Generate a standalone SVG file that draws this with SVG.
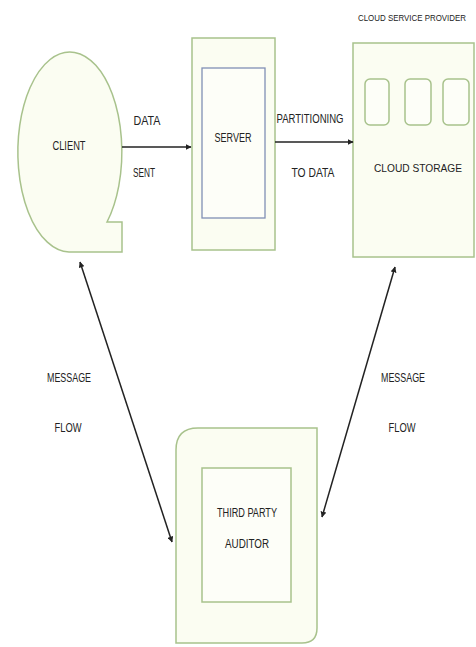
<svg xmlns="http://www.w3.org/2000/svg" width="476" height="647" viewBox="0 0 476 647">
<style>
.shape{fill:#fbfdf2;stroke:#a8c28c;stroke-width:1.5}
.inner{fill:#fdfef8;stroke:#a8c28c;stroke-width:1.5}
.t{font-family:"Liberation Sans",Arial,sans-serif;font-size:12.5px;fill:#222;text-anchor:middle}
.s{font-size:8.5px}
.m{font-size:11px}
.c{fill:none;stroke:#222;stroke-width:1.5}
</style>
<defs>
<marker id="ah" viewBox="0 0 10 10" refX="9" refY="5" markerWidth="6" markerHeight="6" orient="auto-start-reverse" markerUnits="userSpaceOnUse">
<path d="M0,0 L10,5 L0,10 z" fill="#222"/>
</marker>
</defs>
<rect width="476" height="647" fill="#ffffff"/>
<g id="client">
<path class="shape" d="M107,222 A52,100 0 1 0 69,252 L122,252 L122,222 Z"/>
<text class="t" x="69" y="150" textLength="33" lengthAdjust="spacingAndGlyphs">CLIENT</text>
</g>
<g id="server">
<rect class="shape" x="192" y="38" width="83" height="212"/>
<rect x="202" y="68" width="63" height="150" fill="#fdfef8" stroke="#8090b4" stroke-width="1.3"/>
<text class="t" x="233" y="142" textLength="37" lengthAdjust="spacingAndGlyphs">SERVER</text>
</g>
<g id="cloud">
<text class="t s" x="412" y="21" textLength="108" lengthAdjust="spacingAndGlyphs">CLOUD SERVICE PROVIDER</text>
<rect class="shape" x="353" y="43" width="121" height="214"/>
<rect class="inner" x="365" y="79" width="24" height="46" rx="5"/>
<rect class="inner" x="405" y="79" width="26" height="46" rx="5"/>
<rect class="inner" x="443" y="79" width="26" height="46" rx="5"/>
<text class="t m" x="418" y="172" textLength="88" lengthAdjust="spacingAndGlyphs">CLOUD STORAGE</text>
</g>
<g id="auditor">
<path class="shape" d="M198,428 L317,428 L317,628 Q317,643 302,643 L176,643 L176,450 Q176,428 198,428 Z"/>
<rect class="inner" x="202" y="468" width="89" height="134"/>
<text class="t" x="247" y="517" textLength="60" lengthAdjust="spacingAndGlyphs">THIRD PARTY</text>
<text class="t" x="247" y="548" textLength="44" lengthAdjust="spacingAndGlyphs">AUDITOR</text>
</g>
<g id="connectors">
<line class="c" x1="122" y1="147" x2="191" y2="147" marker-end="url(#ah)"/>
<line class="c" x1="275" y1="142" x2="353" y2="142" stroke-width="2.5" marker-end="url(#ah)"/>
<line class="c" x1="80" y1="262" x2="172" y2="542" marker-start="url(#ah)" marker-end="url(#ah)"/>
<line class="c" x1="395" y1="267" x2="322" y2="517" marker-start="url(#ah)" marker-end="url(#ah)"/>
<text class="t" x="147" y="125" textLength="27" lengthAdjust="spacingAndGlyphs">DATA</text>
<text class="t" x="144" y="177" textLength="22" lengthAdjust="spacingAndGlyphs">SENT</text>
<text class="t" x="310" y="123" textLength="67" lengthAdjust="spacingAndGlyphs">PARTITIONING</text>
<text class="t" x="313" y="177" textLength="43" lengthAdjust="spacingAndGlyphs">TO DATA</text>
<text class="t" x="69" y="382" textLength="44" lengthAdjust="spacingAndGlyphs">MESSAGE</text>
<text class="t" x="68" y="432" textLength="27" lengthAdjust="spacingAndGlyphs">FLOW</text>
<text class="t" x="403" y="382" textLength="44" lengthAdjust="spacingAndGlyphs">MESSAGE</text>
<text class="t" x="402" y="432" textLength="27" lengthAdjust="spacingAndGlyphs">FLOW</text>
</g>
</svg>
